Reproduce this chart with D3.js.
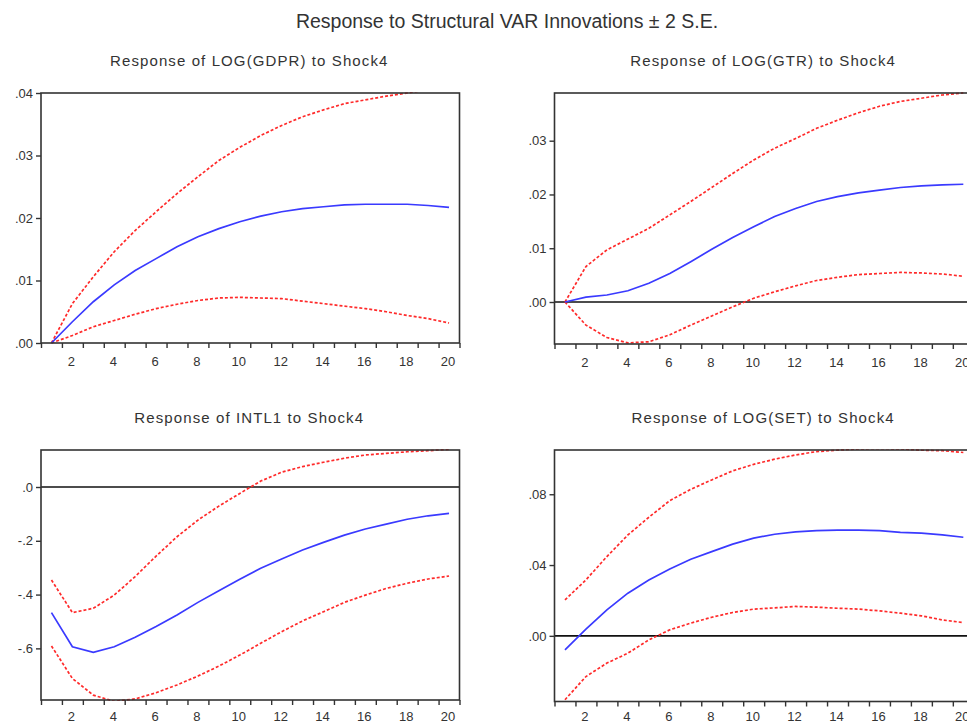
<!DOCTYPE html>
<html>
<head>
<meta charset="utf-8">
<script src="https://cdn.jsdelivr.net/npm/d3@7/dist/d3.min.js"></script>
<style>
  html, body { margin: 0; padding: 0; background: #fff; }
  svg { display: block; font-family: "Liberation Sans", Arial, sans-serif; }
</style>
</head>
<body>
<svg id="chart" width="967" height="725"></svg>
<script>
// Impulse responses to Shock4 (point estimate and ±2 S.E. bands), periods 1..20
const periods = d3.range(1, 21);

const mainTitle = "Response to Structural VAR Innovations \u00B1 2 S.E.";
const panelTitles = [
  "Response of LOG(GDPR) to Shock4",
  "Response of LOG(GTR) to Shock4",
  "Response of INTL1 to Shock4",
  "Response of LOG(SET) to Shock4"
];

// LOG(GDPR)
const gdprResp  = [0, 0.0034, 0.0066, 0.0093, 0.0116, 0.0135, 0.0154, 0.0170, 0.0183, 0.0194,
                   0.0203, 0.0210, 0.0215, 0.0218, 0.0221, 0.0222, 0.0222, 0.0222, 0.0220, 0.0217];
const gdprUpper = [0, 0.0063, 0.0106, 0.0146, 0.0180, 0.0210, 0.0239, 0.0266, 0.0292, 0.0313,
                   0.0332, 0.0348, 0.0362, 0.0373, 0.0383, 0.0389, 0.0395, 0.0400, 0.0405, 0.0409];
const gdprLower = [0, 0.0012, 0.0026, 0.0036, 0.0046, 0.0055, 0.0062, 0.0068, 0.0072, 0.0073,
                   0.0072, 0.0071, 0.0067, 0.0063, 0.0059, 0.0055, 0.0050, 0.0044, 0.0039, 0.0032];

// LOG(GTR)
const gtrResp  = [0, 0.0009, 0.0013, 0.0021, 0.0035, 0.0053, 0.0075, 0.0098, 0.0120, 0.0140,
                  0.0159, 0.0174, 0.0187, 0.0196, 0.0203, 0.0208, 0.0213, 0.0216, 0.0218, 0.0219];
const gtrUpper = [0, 0.0066, 0.0097, 0.0117, 0.0137, 0.0162, 0.0187, 0.0213, 0.0239, 0.0264,
                  0.0286, 0.0304, 0.0323, 0.0338, 0.0352, 0.0364, 0.0373, 0.0379, 0.0385, 0.0389];
const gtrLower = [0, -0.0043, -0.0066, -0.0076, -0.0074, -0.0061, -0.0043, -0.0026, -0.0009, 0.0007,
                  0.0019, 0.0030, 0.0040, 0.0046, 0.0051, 0.0053, 0.0055, 0.0054, 0.0052, 0.0048];

// INTL1
const intlResp  = [-0.467, -0.594, -0.615, -0.594, -0.559, -0.519, -0.476, -0.429, -0.386, -0.343,
                   -0.302, -0.268, -0.234, -0.206, -0.179, -0.156, -0.138, -0.120, -0.107, -0.098];
const intlUpper = [-0.346, -0.467, -0.451, -0.402, -0.333, -0.257, -0.185, -0.123, -0.071, -0.024,
                   0.022, 0.055, 0.076, 0.092, 0.107, 0.119, 0.125, 0.131, 0.135, 0.140];
const intlLower = [-0.591, -0.712, -0.774, -0.797, -0.788, -0.765, -0.736, -0.703, -0.666, -0.625,
                   -0.581, -0.538, -0.498, -0.464, -0.429, -0.402, -0.377, -0.358, -0.342, -0.331];

// LOG(SET)
const setResp  = [-0.0079, 0.0038, 0.0147, 0.0241, 0.0316, 0.0378, 0.0433, 0.0476, 0.0518, 0.0552,
                  0.0574, 0.0587, 0.0595, 0.0597, 0.0597, 0.0595, 0.0585, 0.0580, 0.0570, 0.0557];
const setUpper = [0.0203, 0.0316, 0.0448, 0.0570, 0.0670, 0.0764, 0.0828, 0.0881, 0.0932, 0.0969,
                  0.0998, 0.1022, 0.1041, 0.1049, 0.1056, 0.1058, 0.1056, 0.1049, 0.1046, 0.1036];
const setLower = [-0.0361, -0.0230, -0.0154, -0.0098, -0.0023, 0.0034, 0.0072, 0.0105, 0.0132, 0.0151,
                  0.0158, 0.0166, 0.0162, 0.0156, 0.0151, 0.0141, 0.0128, 0.0113, 0.0090, 0.0075];

// Axis ticks
const xTickLabels = [2, 4, 6, 8, 10, 12, 14, 16, 18, 20];
const gdprTicks = [0, 0.01, 0.02, 0.03, 0.04];
const gdprTickLabels = [".00", ".01", ".02", ".03", ".04"];
const gtrTicks = [0, 0.01, 0.02, 0.03];
const gtrTickLabels = [".00", ".01", ".02", ".03"];
const intlTicks = [-0.6, -0.4, -0.2, 0];
const intlTickLabels = ["-.6", "-.4", "-.2", ".0"];
const setTicks = [0, 0.04, 0.08];
const setTickLabels = [".00", ".04", ".08"];

// Panel layout (pixel frame of each plot and its value range)
const panels = [
  { title: panelTitles[0], resp: gdprResp, upper: gdprUpper, lower: gdprLower,
    ticks: gdprTicks, tickLabels: gdprTickLabels, domain: [0, 0.04], zeroLine: false,
    left: 41, right: 459.5, top: 93, bottom: 343, titleY: 66, labelPad: 14 },
  { title: panelTitles[1], resp: gtrResp, upper: gtrUpper, lower: gtrLower,
    ticks: gtrTicks, tickLabels: gtrTickLabels, domain: [-0.00781, 0.03887], zeroLine: true,
    left: 554.5, right: 973.8, top: 93, bottom: 344, titleY: 66, labelPad: 14 },
  { title: panelTitles[2], resp: intlResp, upper: intlUpper, lower: intlLower,
    ticks: intlTicks, tickLabels: intlTickLabels, domain: [-0.792, 0.1376], zeroLine: true,
    left: 41, right: 459.5, top: 450, bottom: 700, titleY: 422.5, labelPad: 12 },
  { title: panelTitles[3], resp: setResp, upper: setUpper, lower: setLower,
    ticks: setTicks, tickLabels: setTickLabels, domain: [-0.0371, 0.1050], zeroLine: true,
    left: 554.5, right: 973.8, top: 450, bottom: 701.5, titleY: 422.5, labelPad: 10.5 }
];

const svg = d3.select("#chart");
const textColor = "#333";

svg.append("text")
  .attr("x", 507).attr("y", 28)
  .attr("text-anchor", "middle")
  .attr("font-size", "19.5px")
  .attr("fill", textColor)
  .text(mainTitle);

panels.forEach((p, idx) => {
  const x = d3.scaleLinear().domain([0.5, 20.5]).range([p.left, p.right]);
  const y = d3.scaleLinear().domain(p.domain).range([p.bottom, p.top]);
  const g = svg.append("g");

  // panel title
  g.append("text")
    .attr("x", (p.left + p.right) / 2 - 1)
    .attr("y", p.titleY)
    .attr("text-anchor", "middle")
    .attr("font-size", "15px")
    .attr("letter-spacing", "1.1px")
    .attr("fill", textColor)
    .text(p.title);

  const clipId = "clip" + idx;
  svg.append("clipPath").attr("id", clipId)
    .append("rect")
    .attr("x", p.left).attr("y", p.top - 1)
    .attr("width", p.right - p.left).attr("height", p.bottom - p.top + 2);

  const plot = g.append("g").attr("clip-path", `url(#${clipId})`);

  if (p.zeroLine) {
    plot.append("line")
      .attr("x1", p.left).attr("x2", p.right)
      .attr("y1", y(0)).attr("y2", y(0))
      .attr("stroke", "#111").attr("stroke-width", 1.6);
  }

  const line = d3.line()
    .x((d, i) => x(periods[i]))
    .y(d => y(d));

  [p.upper, p.lower].forEach(band => {
    plot.append("path")
      .datum(band)
      .attr("d", line)
      .attr("fill", "none")
      .attr("stroke", "#ff2a2a")
      .attr("stroke-width", 1.7)
      .attr("stroke-dasharray", "3,2");
  });

  plot.append("path")
    .datum(p.resp)
    .attr("d", line)
    .attr("fill", "none")
    .attr("stroke", "#3a3aff")
    .attr("stroke-width", 1.7);

  // frame
  g.append("rect")
    .attr("x", p.left).attr("y", p.top)
    .attr("width", p.right - p.left).attr("height", p.bottom - p.top)
    .attr("fill", "none")
    .attr("stroke", "#333").attr("stroke-width", 1.6);

  // y axis
  const yAxis = d3.axisLeft(y)
    .tickValues(p.ticks)
    .tickFormat((d, i) => p.tickLabels[i])
    .tickSize(5).tickPadding(3);
  const ya = g.append("g").attr("transform", `translate(${p.left},0)`).call(yAxis);
  ya.select(".domain").remove();
  ya.selectAll("line").attr("stroke", "#333").attr("stroke-width", 1.4);
  ya.selectAll("text").attr("font-size", "13px").attr("fill", textColor)
    .attr("font-family", "Liberation Sans, Arial, sans-serif");

  // x axis: tick marks at period boundaries
  const xAxisTicks = d3.axisBottom(x)
    .tickValues(d3.range(0.5, 21, 1))
    .tickFormat("")
    .tickSize(5);
  const xa = g.append("g").attr("transform", `translate(0,${p.bottom})`).call(xAxisTicks);
  xa.select(".domain").remove();
  xa.selectAll("line").attr("stroke", "#333").attr("stroke-width", 1.4);

  // x axis: period labels
  const xAxisLabels = d3.axisBottom(x)
    .tickValues(xTickLabels)
    .tickFormat(d3.format("d"))
    .tickSize(0).tickPadding(p.labelPad);
  const xl = g.append("g").attr("transform", `translate(-1.5,${p.bottom})`).call(xAxisLabels);
  xl.select(".domain").remove();
  xl.selectAll("text").attr("font-size", "13px").attr("fill", textColor)
    .attr("font-family", "Liberation Sans, Arial, sans-serif");
});
</script>
</body>
</html>
